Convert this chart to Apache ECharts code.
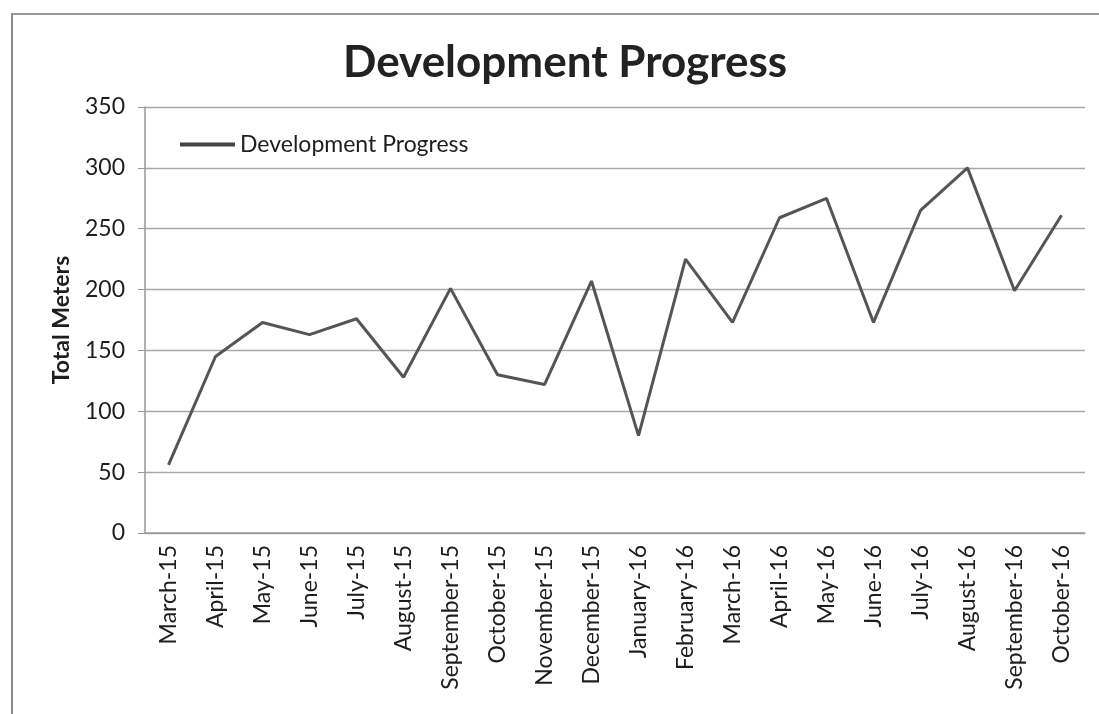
<!DOCTYPE html>
<html>
<head>
<meta charset="utf-8">
<script src="https://cdn.jsdelivr.net/npm/echarts@6/dist/echarts.min.js"></script>
<style>
  html, body { margin: 0; padding: 0; background: #fff; }
  #frame {
    position: absolute; left: 11px; top: 13px; width: 1088px; height: 701px;
    border-left: 2px solid #8a8a8a; border-top: 2px solid #9a9a9a;
  }
  #chart { position: absolute; left: 0; top: 0; width: 1099px; height: 714px; }
</style>
</head>
<body>
<div id="frame"></div>
<div id="chart"></div>
<script>
var months = ['March-15', 'April-15', 'May-15', 'June-15', 'July-15', 'August-15',
  'September-15', 'October-15', 'November-15', 'December-15', 'January-16', 'February-16',
  'March-16', 'April-16', 'May-16', 'June-16', 'July-16', 'August-16', 'September-16', 'October-16'];
var progress = [56, 145, 173, 163, 176, 128, 201, 130, 122, 207, 80, 225,
  173, 259, 275, 173, 265, 300, 199, 261];
var yTicks = [0, 50, 100, 150, 200, 250, 300, 350];

var font = 'Lato, "Open Sans", sans-serif';
var chart = echarts.init(document.getElementById('chart'));
chart.setOption({
  animation: false,
  title: {
    text: 'Development Progress',
    left: 338,
    top: 36,
    textStyle: { fontFamily: font, fontSize: 44, fontWeight: 'bold', color: '#222' }
  },
  legend: {
    left: 175,
    top: 128,
    icon: 'rect',
    itemWidth: 55,
    itemHeight: 4,
    textStyle: { fontFamily: font, fontSize: 23, color: '#1e1e1e' },
    data: ['Development Progress']
  },
  grid: { left: 145, right: 14, top: 107, bottom: 181, containLabel: false },
  xAxis: {
    type: 'category',
    data: months,
    boundaryGap: true,
    axisLine: { lineStyle: { color: '#999', width: 1.5 } },
    axisTick: { length: 7, lineStyle: { color: '#999' } },
    axisLabel: { rotate: 90, margin: 12, fontFamily: font, fontSize: 23, color: '#1e1e1e' }
  },
  yAxis: {
    type: 'value',
    min: yTicks[0],
    max: yTicks[yTicks.length - 1],
    interval: 50,
    name: 'Total Meters',
    nameLocation: 'middle',
    nameGap: 72,
    nameTextStyle: { fontFamily: font, fontSize: 23, fontWeight: 'bold', color: '#1e1e1e' },
    axisLine: { show: true, lineStyle: { color: '#999', width: 1.5 } },
    axisTick: { show: true, length: 7, lineStyle: { color: '#999' } },
    axisLabel: { margin: 20, fontFamily: font, fontSize: 23, color: '#1e1e1e' },
    splitLine: { lineStyle: { color: '#a8a8a8', width: 1.3 } }
  },
  series: [{
    name: 'Development Progress',
    type: 'line',
    data: progress,
    showSymbol: false,
    itemStyle: { color: '#444' },
    lineStyle: { color: '#555', width: 3 }
  }]
});
</script>
</body>
</html>
